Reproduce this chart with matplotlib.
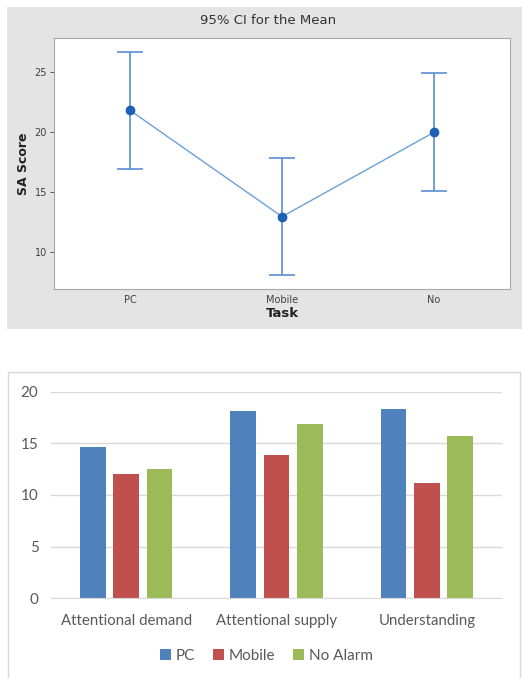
import matplotlib.pyplot as plt
from matplotlib.patches import Rectangle

# top chart: interval plot
tasks = ["PC", "Mobile", "No"]
sa_mean = [21.83, 12.97, 20.0]
ci_low = [16.92, 8.08, 15.1]
ci_high = [26.72, 17.88, 24.92]

# bottom chart: grouped bars
dimensions = ["Attentional demand", "Attentional supply", "Understanding"]
pc_scores = [14.68, 18.16, 18.33]
mobile_scores = [12.0, 13.87, 11.13]
noalarm_scores = [12.49, 16.84, 15.68]


def main():
    fig = plt.figure(figsize=(5.22, 6.78), dpi=100)
    W, H = 522, 678

    # gray background panel of the top chart
    fig.patches.append(Rectangle((7 / W, 1 - 329 / H), 515 / W, 322 / H,
                                 transform=fig.transFigure,
                                 facecolor="#e4e4e4", edgecolor="none",
                                 zorder=-5))
    # thin border of the bottom chart
    fig.patches.append(Rectangle((8 / W, -0.01), 512 / W, 1 - 372 / H + 0.01,
                                 transform=fig.transFigure,
                                 facecolor="none", edgecolor="#d9d9d9",
                                 linewidth=1, zorder=-5))

    # ---- top: 95% CI for the mean
    ax1 = fig.add_axes([54 / W, 1 - 289 / H, 456 / W, 251 / H])
    x = list(range(len(tasks)))
    err_lo = [m - lo for m, lo in zip(sa_mean, ci_low)]
    err_hi = [hi - m for m, hi in zip(sa_mean, ci_high)]
    ax1.errorbar(x, sa_mean, yerr=[err_lo, err_hi], fmt="none",
                 ecolor="#5b8fd0", elinewidth=1.2, capsize=9.7,
                 capthick=1.2, zorder=2)
    ax1.plot(x, sa_mean, color="#6aa0dc", linewidth=1, zorder=3)
    ax1.plot(x, sa_mean, "o", color="#1f5fb4", markersize=6, zorder=4)
    ax1.set_xlim(-0.5, 2.5)
    ax1.set_ylim(6.94, 27.86)
    ax1.set_xticks(x)
    ax1.set_xticklabels(tasks)
    ax1.set_yticks([10, 15, 20, 25])
    ax1.tick_params(labelsize=7, colors="#404040", length=3, width=0.6,
                    pad=2)
    ax1.tick_params(axis="x", length=0, pad=4)
    for s in ax1.spines.values():
        s.set_color("#a8a8a8")
    ax1.set_xlabel("Task", fontsize=9.5, fontweight="bold", color="#222222",
                   labelpad=2)
    ax1.set_ylabel("SA Score", fontsize=9, fontweight="bold",
                   color="#222222", labelpad=3)
    fig.text(268 / W, 1 - 21 / H, "95% CI for the Mean", ha="center",
             va="center", fontsize=9.5, color="#333333")

    # ---- bottom: grouped bar chart
    ax2 = fig.add_axes([51 / W, 1 - 598.3 / H, 451 / W, 206.6 / H])
    bw = 0.171
    off = 0.222
    xs = list(range(len(dimensions)))
    ax2.bar([i - off for i in xs], pc_scores, bw, color="#4f81bd",
            label="PC", zorder=3)
    ax2.bar(xs, mobile_scores, bw, color="#c0504d", label="Mobile",
            zorder=3)
    ax2.bar([i + off for i in xs], noalarm_scores, bw, color="#9bbb59",
            label="No Alarm", zorder=3)
    ax2.set_xlim(-0.5, 2.5)
    ax2.set_ylim(0, 20)
    ax2.set_yticks([0, 5, 10, 15, 20])
    ax2.set_xticks(xs)
    ax2.set_xticklabels(dimensions, family="Lato", fontsize=10.8,
                        color="#595959")
    for lab in ax2.get_yticklabels():
        lab.set_family("Lato")
    ax2.tick_params(axis="y", labelsize=11, labelcolor="#595959",
                    length=0, pad=9)
    ax2.tick_params(axis="x", length=0, pad=11)
    ax2.grid(axis="y", color="#d9d9d9", linewidth=1, zorder=0)
    for side in ["top", "right", "left"]:
        ax2.spines[side].set_visible(False)
    ax2.spines["bottom"].set_color("#d9d9d9")
    ax2.spines["bottom"].set_zorder(4)
    leg = ax2.legend(loc="center", bbox_to_anchor=(0.478, -0.28),
                     ncol=3, frameon=False, handlelength=0.7,
                     handleheight=0.7, handletextpad=0.3,
                     columnspacing=1.2,
                     prop={"family": "Lato", "size": 11})
    for t in leg.get_texts():
        t.set_color("#595959")

    fig.savefig("out.png", dpi=100)


if __name__ == "__main__":
    main()
